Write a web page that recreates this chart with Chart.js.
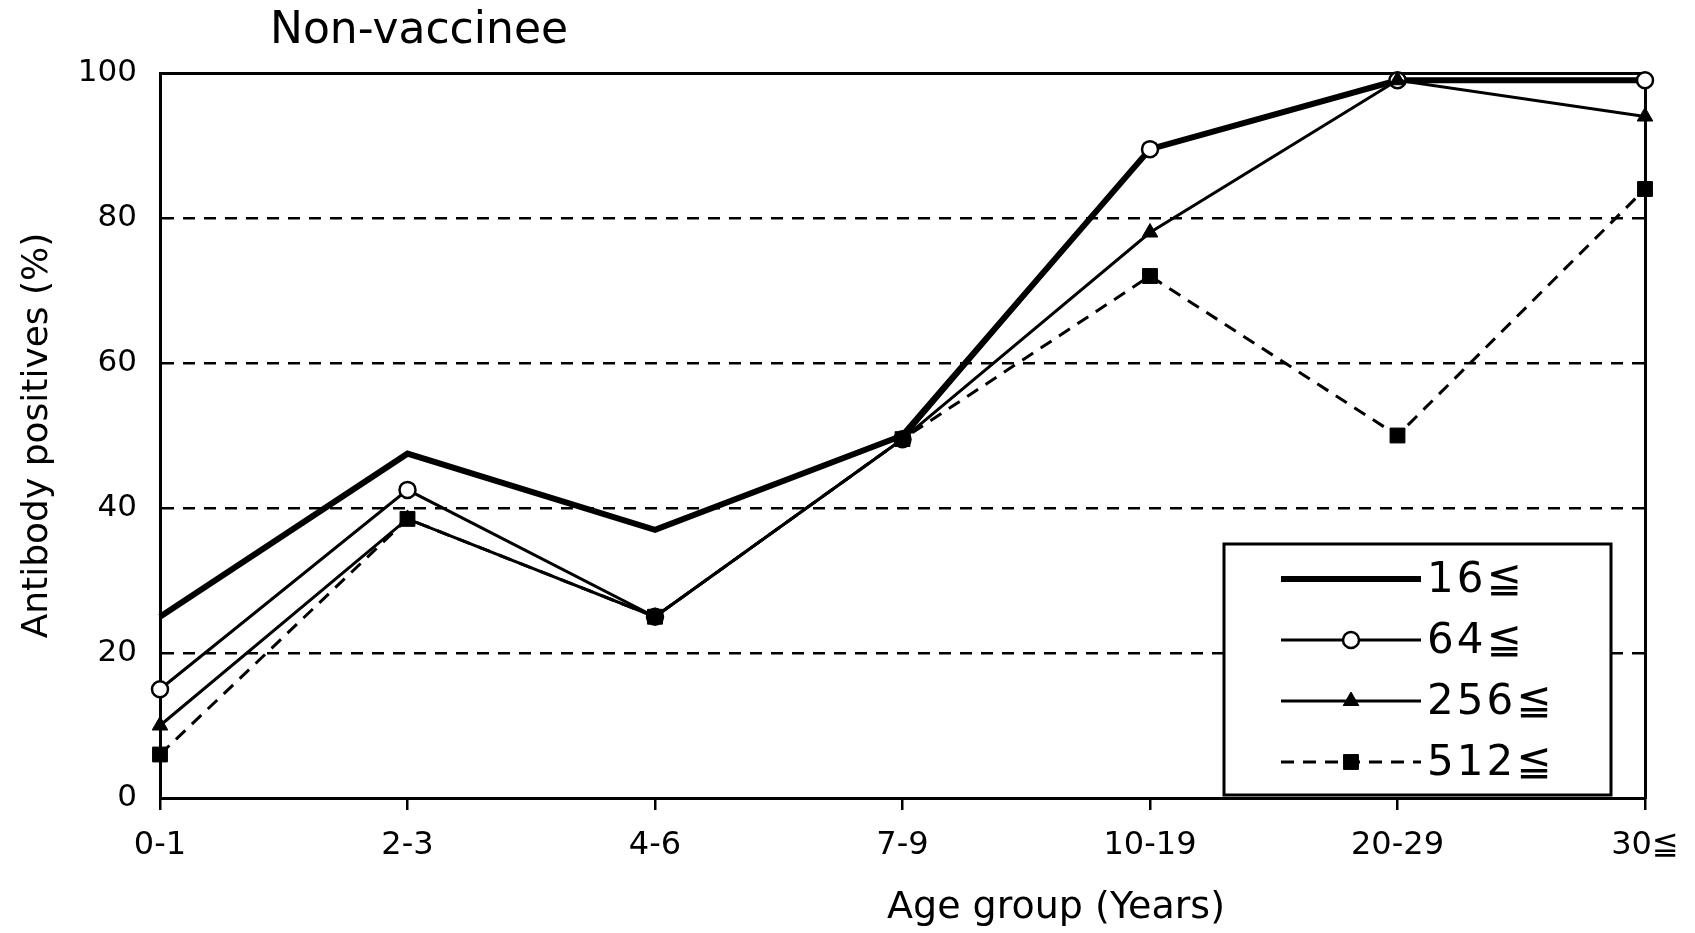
<!DOCTYPE html>
<html>
<head>
<meta charset="utf-8">
<title>Non-vaccinee</title>
<script src="https://cdn.jsdelivr.net/npm/chart.js@4.4.1/dist/chart.umd.min.js"></script>
<style>
  html, body { margin: 0; padding: 0; background: #fff; }
  #wrap { width: 1695px; height: 933px; }
</style>
</head>
<body>
<div id="wrap"><canvas id="chart" width="1695" height="933"></canvas></div>
<script>
  const TITLE_TEXT = "Non-vaccinee";
  const X_TITLE = "Age group (Years)";
  const Y_TITLE = "Antibody positives (%)";
  const AGE_GROUPS = ["0-1", "2-3", "4-6", "7-9", "10-19", "20-29", "30≦"];
  const Y_TICKS = [0, 20, 40, 60, 80, 100];

  const SERIES_LABELS = ["16≦", "64≦", "256≦", "512≦"];
  const TITER_16 = [25, 47.5, 37, 50, 89.5, 99, 99];
  const TITER_64 = [15, 42.5, 25, 49.5, 89.5, 99, 99];
  const TITER_256 = [10, 38.5, 25, 49.5, 78, 99, 94];
  const TITER_512 = [6, 38.5, 25, 49.5, 72, 50, 84];

  const FONT = '"DejaVu Sans", "Noto Sans", sans-serif';
  const INK = "#000";

  // panel title and the x-axis title are both off-centre in the original
  const looseTitles = {
    id: "looseTitles",
    afterDraw(chart) {
      const { ctx, chartArea } = chart;
      ctx.save();
      ctx.fillStyle = INK;
      ctx.textBaseline = "alphabetic";
      ctx.font = `44px ${FONT}`;
      ctx.textAlign = "left";
      ctx.fillText(TITLE_TEXT, chartArea.left + 110, 43);
      ctx.font = `38px ${FONT}`;
      ctx.textAlign = "center";
      ctx.fillText(X_TITLE, chartArea.left + 896, 918);
      ctx.restore();
    },
  };

  function drawMarker(ctx, ds, x, y) {
    if (!ds.pointRadius) return;
    ctx.fillStyle = ds.pointBackgroundColor;
    ctx.strokeStyle = ds.pointBorderColor;
    ctx.lineWidth = ds.pointBorderWidth;
    Chart.helpers.drawPoint(
      ctx,
      { pointStyle: ds.pointStyle, radius: ds.pointRadius, borderWidth: ds.pointBorderWidth, rotation: 0 },
      x,
      y
    );
  }

  // boxed legend in the lower right corner of the plot
  const boxLegend = {
    id: "boxLegend",
    afterDatasetsDraw(chart) {
      const { ctx, chartArea } = chart;
      const right = chartArea.right - 34;
      const bottom = chartArea.bottom - 3;
      const left = right - 387;
      const top = bottom - 251;

      ctx.save();
      ctx.fillStyle = "#fff";
      ctx.fillRect(left, top, right - left, bottom - top);
      ctx.lineWidth = 3;
      ctx.strokeStyle = INK;
      ctx.strokeRect(left, top, right - left, bottom - top);

      ctx.font = `42px ${FONT}`;
      ctx.letterSpacing = "3px";
      ctx.textBaseline = "middle";
      chart.data.datasets.forEach((ds, i) => {
        const y = top + 35 + i * 61;
        const x1 = left + 57;
        const x2 = left + 197;
        ctx.strokeStyle = ds.borderColor;
        ctx.lineWidth = ds.borderWidth;
        ctx.setLineDash(ds.borderDash || []);
        ctx.beginPath();
        ctx.moveTo(x1, y);
        ctx.lineTo(x2, y);
        ctx.stroke();
        ctx.setLineDash([]);
        drawMarker(ctx, ds, (x1 + x2) / 2, y);
        ctx.fillStyle = INK;
        ctx.fillText(ds.label, left + 203, y + 2);
      });
      ctx.restore();
    },
  };

  const datasets = [
    {
      label: SERIES_LABELS[0],
      data: TITER_16,
      borderColor: INK,
      borderWidth: 6,
      pointRadius: 0,
      order: 4,
    },
    {
      label: SERIES_LABELS[1],
      data: TITER_64,
      borderColor: INK,
      borderWidth: 3,
      pointStyle: "circle",
      pointRadius: 8,
      pointBackgroundColor: "#fff",
      pointBorderColor: INK,
      pointBorderWidth: 2.5,
      order: 3,
    },
    {
      label: SERIES_LABELS[2],
      data: TITER_256,
      borderColor: INK,
      borderWidth: 3,
      pointStyle: "triangle",
      pointRadius: 9,
      pointBackgroundColor: INK,
      pointBorderColor: INK,
      pointBorderWidth: 1,
      order: 2,
    },
    {
      label: SERIES_LABELS[3],
      data: TITER_512,
      borderColor: INK,
      borderWidth: 3,
      borderDash: [13, 9],
      pointStyle: "rect",
      pointRadius: 10.5,
      pointBackgroundColor: INK,
      pointBorderColor: INK,
      pointBorderWidth: 1,
      order: 1,
    },
  ].map((ds) => ({ ...ds, tension: 0, fill: false, clip: false }));

  const frameBorder = { display: true, color: INK, width: 3 };

  new Chart(document.getElementById("chart"), {
    type: "line",
    data: { labels: AGE_GROUPS, datasets },
    options: {
      responsive: false,
      animation: false,
      devicePixelRatio: 1,
      layout: { padding: { top: 73, right: 50, left: 0, bottom: 0 } },
      plugins: {
        legend: { display: false },
        tooltip: { enabled: false },
      },
      scales: {
        x: {
          type: "category",
          offset: false,
          border: frameBorder,
          grid: {
            display: true,
            drawOnChartArea: false,
            drawTicks: true,
            tickLength: 12,
            color: INK,
            lineWidth: 2.5,
          },
          ticks: {
            color: INK,
            font: { family: FONT, size: 32 },
            padding: 16,
            maxRotation: 0,
            autoSkip: false,
          },
          afterFit(scale) {
            scale.height = 135;
          },
        },
        y: {
          min: 0,
          max: 100,
          border: { ...frameBorder, dash: [12, 9] },
          grid: {
            drawTicks: false,
            lineWidth: 2.5,
            color(ctx) {
              const v = ctx.tick ? ctx.tick.value : null;
              return v === 0 || v === 100 ? "rgba(0,0,0,0)" : INK;
            },
          },
          afterBuildTicks(scale) {
            scale.ticks = Y_TICKS.map((value) => ({ value }));
          },
          ticks: {
            color: INK,
            font: { family: FONT, size: 31 },
            padding: 23,
          },
          title: {
            display: true,
            text: Y_TITLE,
            color: INK,
            font: { family: FONT, size: 36 },
            padding: { top: 16, bottom: 0 },
          },
          afterFit(scale) {
            scale.width = 160;
          },
        },
        xTop: {
          type: "category",
          position: "top",
          labels: AGE_GROUPS,
          offset: false,
          border: frameBorder,
          grid: { display: false, drawTicks: false },
          ticks: { display: false },
          afterFit(scale) {
            scale.height = 0;
          },
        },
        yRight: {
          type: "linear",
          position: "right",
          min: 0,
          max: 100,
          border: frameBorder,
          grid: { display: false, drawTicks: false },
          ticks: { display: false },
          afterFit(scale) {
            scale.width = 0;
          },
        },
      },
    },
    plugins: [looseTitles, boxLegend],
  });
</script>
</body>
</html>
